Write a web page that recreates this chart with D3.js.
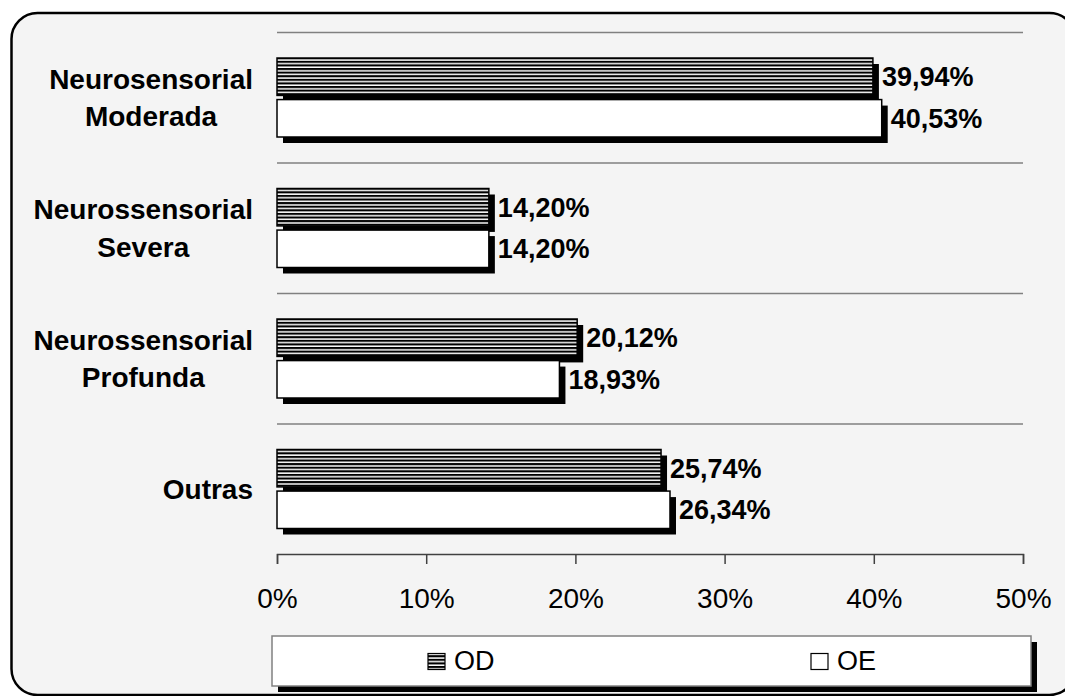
<!DOCTYPE html>
<html>
<head>
<meta charset="utf-8">
<script src="https://cdn.jsdelivr.net/npm/d3@7"></script>
<style>
  html, body { margin: 0; padding: 0; background: #ffffff; }
  svg { display: block; font-family: Arial, "Liberation Sans", sans-serif; }
</style>
</head>
<body>
<svg id="chart" width="1065" height="696"></svg>
<script>
// Hearing-loss types, right ear (OD) vs left ear (OE)
const categories = ["Neurosensorial Moderada", "Neurossensorial Severa", "Neurossensorial Profunda", "Outras"];
const seriesNames = ["OD", "OE"];
const odValues = [39.94, 14.20, 20.12, 25.74];
const oeValues = [40.53, 14.20, 18.93, 26.34];
const tickValues = [0, 10, 20, 30, 40, 50];

const svg = d3.select("#chart");

// pattern for the OD bars: narrow horizontal lines
const defs = svg.append("defs");
const pat = defs.append("pattern")
  .attr("id", "hlines")
  .attr("patternUnits", "userSpaceOnUse")
  .attr("width", 8).attr("height", 3.6);
pat.append("rect").attr("width", 8).attr("height", 3.6).attr("fill", "#ffffff");
pat.append("rect").attr("y", 0).attr("width", 8).attr("height", 2.1).attr("fill", "#000000");

// rounded outer frame
svg.append("rect")
  .attr("x", 11.5).attr("y", 13)
  .attr("width", 1064).attr("height", 682)
  .attr("rx", 26).attr("ry", 26)
  .attr("fill", "#f4f4f4")
  .attr("stroke", "#000").attr("stroke-width", 2.5);

const x = d3.scaleLinear().domain([0, 50]).range([277, 1023]);
const y = d3.scaleBand().domain(categories).range([32, 554]).padding(0);
const ySub = d3.scaleBand().domain(seriesNames)
  .range([26, y.bandwidth() - 25.5]).paddingInner(0.1).paddingOuter(0);

const fmt = v => d3.format(".2f")(v).replace(".", ",") + "%";

// category separators
const seps = categories.map(c => y(c));
svg.append("g").selectAll("line").data(seps).join("line")
  .attr("x1", x(0)).attr("x2", x(50))
  .attr("y1", d => d + 0.5).attr("y2", d => d + 0.5)
  .attr("stroke", "#808080").attr("stroke-width", 1.5);

// x axis
const axis = d3.axisBottom(x).tickValues(tickValues).tickSize(10).tickPadding(8)
  .tickFormat(d => d + "%");
const gx = svg.append("g").attr("transform", `translate(0,${554})`).call(axis);
gx.select(".domain").attr("stroke", "#404040").attr("stroke-width", 1.5);
gx.selectAll(".tick line").attr("stroke", "#404040").attr("stroke-width", 1.5);
gx.selectAll(".tick text")
  .attr("font-size", 28).attr("fill", "#000")
  .attr("font-family", "Arial, 'Liberation Sans', sans-serif")
  .attr("dy", null).attr("y", 54);

// bars with drop shadows and value labels
const rows = categories.map((c, i) => ({ c, vals: [odValues[i], oeValues[i]] }));
const shadow = 6;
const groups = svg.append("g").selectAll("g").data(rows).join("g")
  .attr("transform", d => `translate(0,${y(d.c)})`);

seriesNames.forEach((s, si) => {
  groups.append("rect")
    .attr("x", x(0) + shadow)
    .attr("y", ySub(s) + shadow)
    .attr("width", d => x(d.vals[si]) - x(0))
    .attr("height", ySub.bandwidth())
    .attr("fill", "#000");
  groups.append("rect")
    .attr("x", x(0))
    .attr("y", ySub(s))
    .attr("width", d => x(d.vals[si]) - x(0))
    .attr("height", ySub.bandwidth())
    .attr("fill", si === 0 ? "url(#hlines)" : "#ffffff")
    .attr("stroke", "#000").attr("stroke-width", 1.5);
  groups.append("text")
    .attr("x", d => x(d.vals[si]) + shadow + 3)
    .attr("y", ySub(s) + ySub.bandwidth() / 2 + 9.5)
    .attr("font-size", 27).attr("font-weight", "bold")
    .text(d => fmt(d.vals[si]));
});

// category labels: lines centred within a block right-aligned to the plot
const labelRight = 253;
categories.forEach(c => {
  const lines = c.split(" ");
  const g = svg.append("g");
  const cy = y(c) + y.bandwidth() / 2;
  const texts = lines.map((ln, i) => g.append("text")
    .attr("y", cy + 10 + (i - (lines.length - 1) / 2) * 37.5)
    .attr("font-size", 28).attr("font-weight", "bold")
    .attr("text-anchor", "middle")
    .text(ln));
  const wMax = d3.max(texts, t => t.node().getComputedTextLength());
  texts.forEach(t => t.attr("x", labelRight - wMax / 2));
});

// legend
const lg = svg.append("g");
lg.append("rect").attr("x", 272 + 6).attr("y", 636 + 6).attr("width", 759).attr("height", 50).attr("fill", "#000");
lg.append("rect").attr("x", 272).attr("y", 636).attr("width", 759).attr("height", 50)
  .attr("fill", "#ffffff").attr("stroke", "#808080").attr("stroke-width", 1.5);

const legendItems = [
  { name: seriesNames[0], ix: 428, fill: "url(#hlines)" },
  { name: seriesNames[1], ix: 811, fill: "#ffffff" }
];
legendItems.forEach(it => {
  lg.append("rect").attr("x", it.ix).attr("y", 653.5).attr("width", 17).attr("height", 16)
    .attr("fill", it.fill).attr("stroke", "#000").attr("stroke-width", 1.2);
  lg.append("text").attr("x", it.ix + 26).attr("y", 670)
    .attr("font-size", 27).text(it.name);
});
</script>
</body>
</html>
